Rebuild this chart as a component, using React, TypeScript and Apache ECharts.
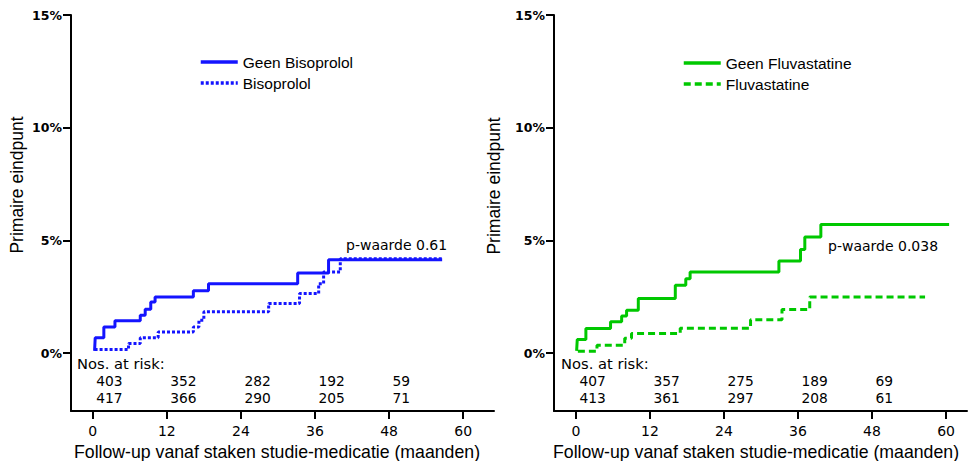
import React, { useEffect, useRef } from "react";
import * as echarts from "echarts";

// ---- Data ----
const monthTicks = [0, 12, 24, 36, 48, 60];
const pctTicks = [0, 5, 10, 15];

// Left panel: Bisoprolol [months, % primary endpoint]
const geenBisoprolol: [number, number][] = [
  [0.3, 0.1], [0.4, 0.68], [1.8, 1.16], [3.6, 1.43], [7.7, 1.68], [8.5, 1.95],
  [9.4, 2.27], [10.1, 2.49], [16.3, 2.76], [18.75, 3.08], [33.2, 3.55],
  [38.2, 4.14], [56.6, 4.14],
];
const bisoprolol: [number, number][] = [
  [0.3, 0.16], [5.8, 0.43], [7.7, 0.68], [10.6, 0.94], [16.3, 1.16],
  [17.2, 1.46], [18.0, 1.83], [28.5, 2.2], [33.5, 2.64], [36.6, 3.08],
  [37.4, 3.6], [40.1, 4.19], [56.6, 4.19],
];

// Right panel: Fluvastatine
const geenFluvastatine: [number, number][] = [
  [0.1, 0.1], [0.2, 0.6], [1.6, 1.09], [5.6, 1.39], [7.4, 1.64], [8.2, 1.9],
  [10.1, 2.42], [16.1, 3.01], [17.8, 3.3], [18.5, 3.6], [32.9, 4.08],
  [36.4, 4.59], [37.1, 5.15], [39.7, 5.71], [60.5, 5.71],
];
const fluvastatine: [number, number][] = [
  [0.3, 0.08], [3.4, 0.35], [7.9, 0.66], [9.0, 0.87], [16.9, 1.1],
  [28.3, 1.48], [33.4, 1.93], [37.9, 2.49], [56.6, 2.49],
];

// Numbers at risk
const riskTimes = [0, 12, 24, 36, 48];
const riskGeenBisoprolol = [403, 352, 282, 192, 59];
const riskBisoprolol = [417, 366, 290, 205, 71];
const riskGeenFluvastatine = [407, 357, 275, 189, 69];
const riskFluvastatine = [413, 361, 297, 208, 61];
const riskRowLevels = [-1.24, -1.99];

const pLeft = "p-waarde 0.61";
const pRight = "p-waarde 0.038";

const BLUE = "#1414ff";
const GREEN = "#00c800";
const VERDANA = "'DejaVu Sans', Verdana, sans-serif";
const ARIAL = "'Liberation Sans', Arial, sans-serif";

function riskSeries(idx: number, values: number[], level: number) {
  return {
    type: "scatter",
    xAxisIndex: idx,
    yAxisIndex: idx,
    symbolSize: 1,
    itemStyle: { color: "rgba(0,0,0,0)" },
    silent: true,
    data: riskTimes.map((t, i) => [t, level, values[i]]),
    label: {
      show: true,
      position: "right",
      distance: 0,
      offset: [3, 0],
      formatter: (p: any) => String(p.value[2]),
      color: "#000",
      opacity: 1,
      textBorderWidth: 0,
      fontFamily: VERDANA,
      fontSize: 13.8,
    },
  };
}

function xAxisFor(idx: number, min: number, max: number) {
  return {
    type: "value",
    gridIndex: idx,
    min,
    max,
    axisLine: { show: true, onZero: false, lineStyle: { color: "#000", width: 2 } },
    axisTick: { show: true, length: 8, customValues: monthTicks, lineStyle: { color: "#000", width: 2 } },
    axisLabel: { customValues: monthTicks, margin: 13, color: "#000", fontFamily: VERDANA, fontSize: 14 },
    splitLine: { show: false },
  };
}

function yAxisFor(idx: number) {
  return {
    type: "value",
    gridIndex: idx,
    min: -2.57,
    max: 15,
    axisLine: { show: true, onZero: false, lineStyle: { color: "#000", width: 2 } },
    axisTick: { show: true, length: 8, customValues: pctTicks, lineStyle: { color: "#000", width: 2 } },
    axisLabel: {
      customValues: pctTicks,
      margin: 9,
      color: "#000",
      fontFamily: VERDANA,
      fontWeight: "bold",
      fontSize: 12.5,
      formatter: (v: number) => v + "%",
      padding: [6, 0, 0, 0],
    },
    splitLine: { show: false },
  };
}

function lineSeries(name: string, idx: number, data: [number, number][], color: string, type: any) {
  return {
    name,
    type: "line",
    xAxisIndex: idx,
    yAxisIndex: idx,
    step: "end",
    symbol: "none",
    data,
    lineStyle: { color, width: 3, type, cap: "butt" },
    itemStyle: { color },
  };
}

const legendBase = {
  orient: "vertical",
  padding: 0,
  itemWidth: 37,
  itemHeight: 14,
  itemGap: 5,
  itemStyle: { opacity: 0 },
  lineStyle: { width: 3.5 },
  textStyle: { fontFamily: ARIAL, fontSize: 15.5, color: "#000" },
};

export default function App() {
  const ref = useRef<HTMLDivElement>(null);
  useEffect(() => {
    document.body.style.margin = "0";
    if (!ref.current) return;
    const chart = echarts.init(ref.current, null, { renderer: "svg" });
    chart.setOption({
      animation: false,
      backgroundColor: "#fff",
      grid: [
        { left: 71, top: 15, width: 423, height: 396 },
        { left: 554, top: 15, width: 413, height: 396 },
      ],
      xAxis: [xAxisFor(0, -3.52, 65.0), xAxisFor(1, -3.57, 63.4)],
      yAxis: [yAxisFor(0), yAxisFor(1)],
      legend: [
        { ...legendBase, data: ["Geen Bisoprolol", "Bisoprolol"], left: 199, top: 54 },
        { ...legendBase, data: ["Geen Fluvastatine", "Fluvastatine"], left: 682, top: 55 },
      ],
      series: [
        lineSeries("Geen Bisoprolol", 0, geenBisoprolol, BLUE, "solid"),
        lineSeries("Bisoprolol", 0, bisoprolol, BLUE, [3, 2]),
        lineSeries("Geen Fluvastatine", 1, geenFluvastatine, GREEN, "solid"),
        lineSeries("Fluvastatine", 1, fluvastatine, GREEN, [7, 4]),
        riskSeries(0, riskGeenBisoprolol, riskRowLevels[0]),
        riskSeries(0, riskBisoprolol, riskRowLevels[1]),
        riskSeries(1, riskGeenFluvastatine, riskRowLevels[0]),
        riskSeries(1, riskFluvastatine, riskRowLevels[1]),
      ],
      graphic: [
        { type: "text", x: 17, y: 185, rotation: Math.PI / 2,
          style: { text: "Primaire eindpunt", font: `17.5px ${ARIAL}`, fill: "#000", align: "center", verticalAlign: "middle" } },
        { type: "text", x: 494, y: 186, rotation: Math.PI / 2,
          style: { text: "Primaire eindpunt", font: `17.5px ${ARIAL}`, fill: "#000", align: "center", verticalAlign: "middle" } },
        { type: "text", x: 277, y: 452,
          style: { text: "Follow-up vanaf staken studie-medicatie (maanden)", font: `17.7px ${ARIAL}`, fill: "#000", align: "center", verticalAlign: "middle" } },
        { type: "text", x: 756, y: 452,
          style: { text: "Follow-up vanaf staken studie-medicatie (maanden)", font: `17.7px ${ARIAL}`, fill: "#000", align: "center", verticalAlign: "middle" } },
        { type: "text", x: 77, y: 363,
          style: { text: "Nos. at risk:", font: `14.7px ${VERDANA}`, fill: "#000", align: "left", verticalAlign: "middle" } },
        { type: "text", x: 561, y: 363,
          style: { text: "Nos. at risk:", font: `14.7px ${VERDANA}`, fill: "#000", align: "left", verticalAlign: "middle" } },
        { type: "text", x: 346, y: 245,
          style: { text: pLeft, font: `14px ${VERDANA}`, fill: "#000", align: "left", verticalAlign: "middle" } },
        { type: "text", x: 828, y: 246,
          style: { text: pRight, font: `14px ${VERDANA}`, fill: "#000", align: "left", verticalAlign: "middle" } },
      ],
    });
    return () => chart.dispose();
  }, []);
  return <div ref={ref} style={{ width: 968, height: 461 }} />;
}
